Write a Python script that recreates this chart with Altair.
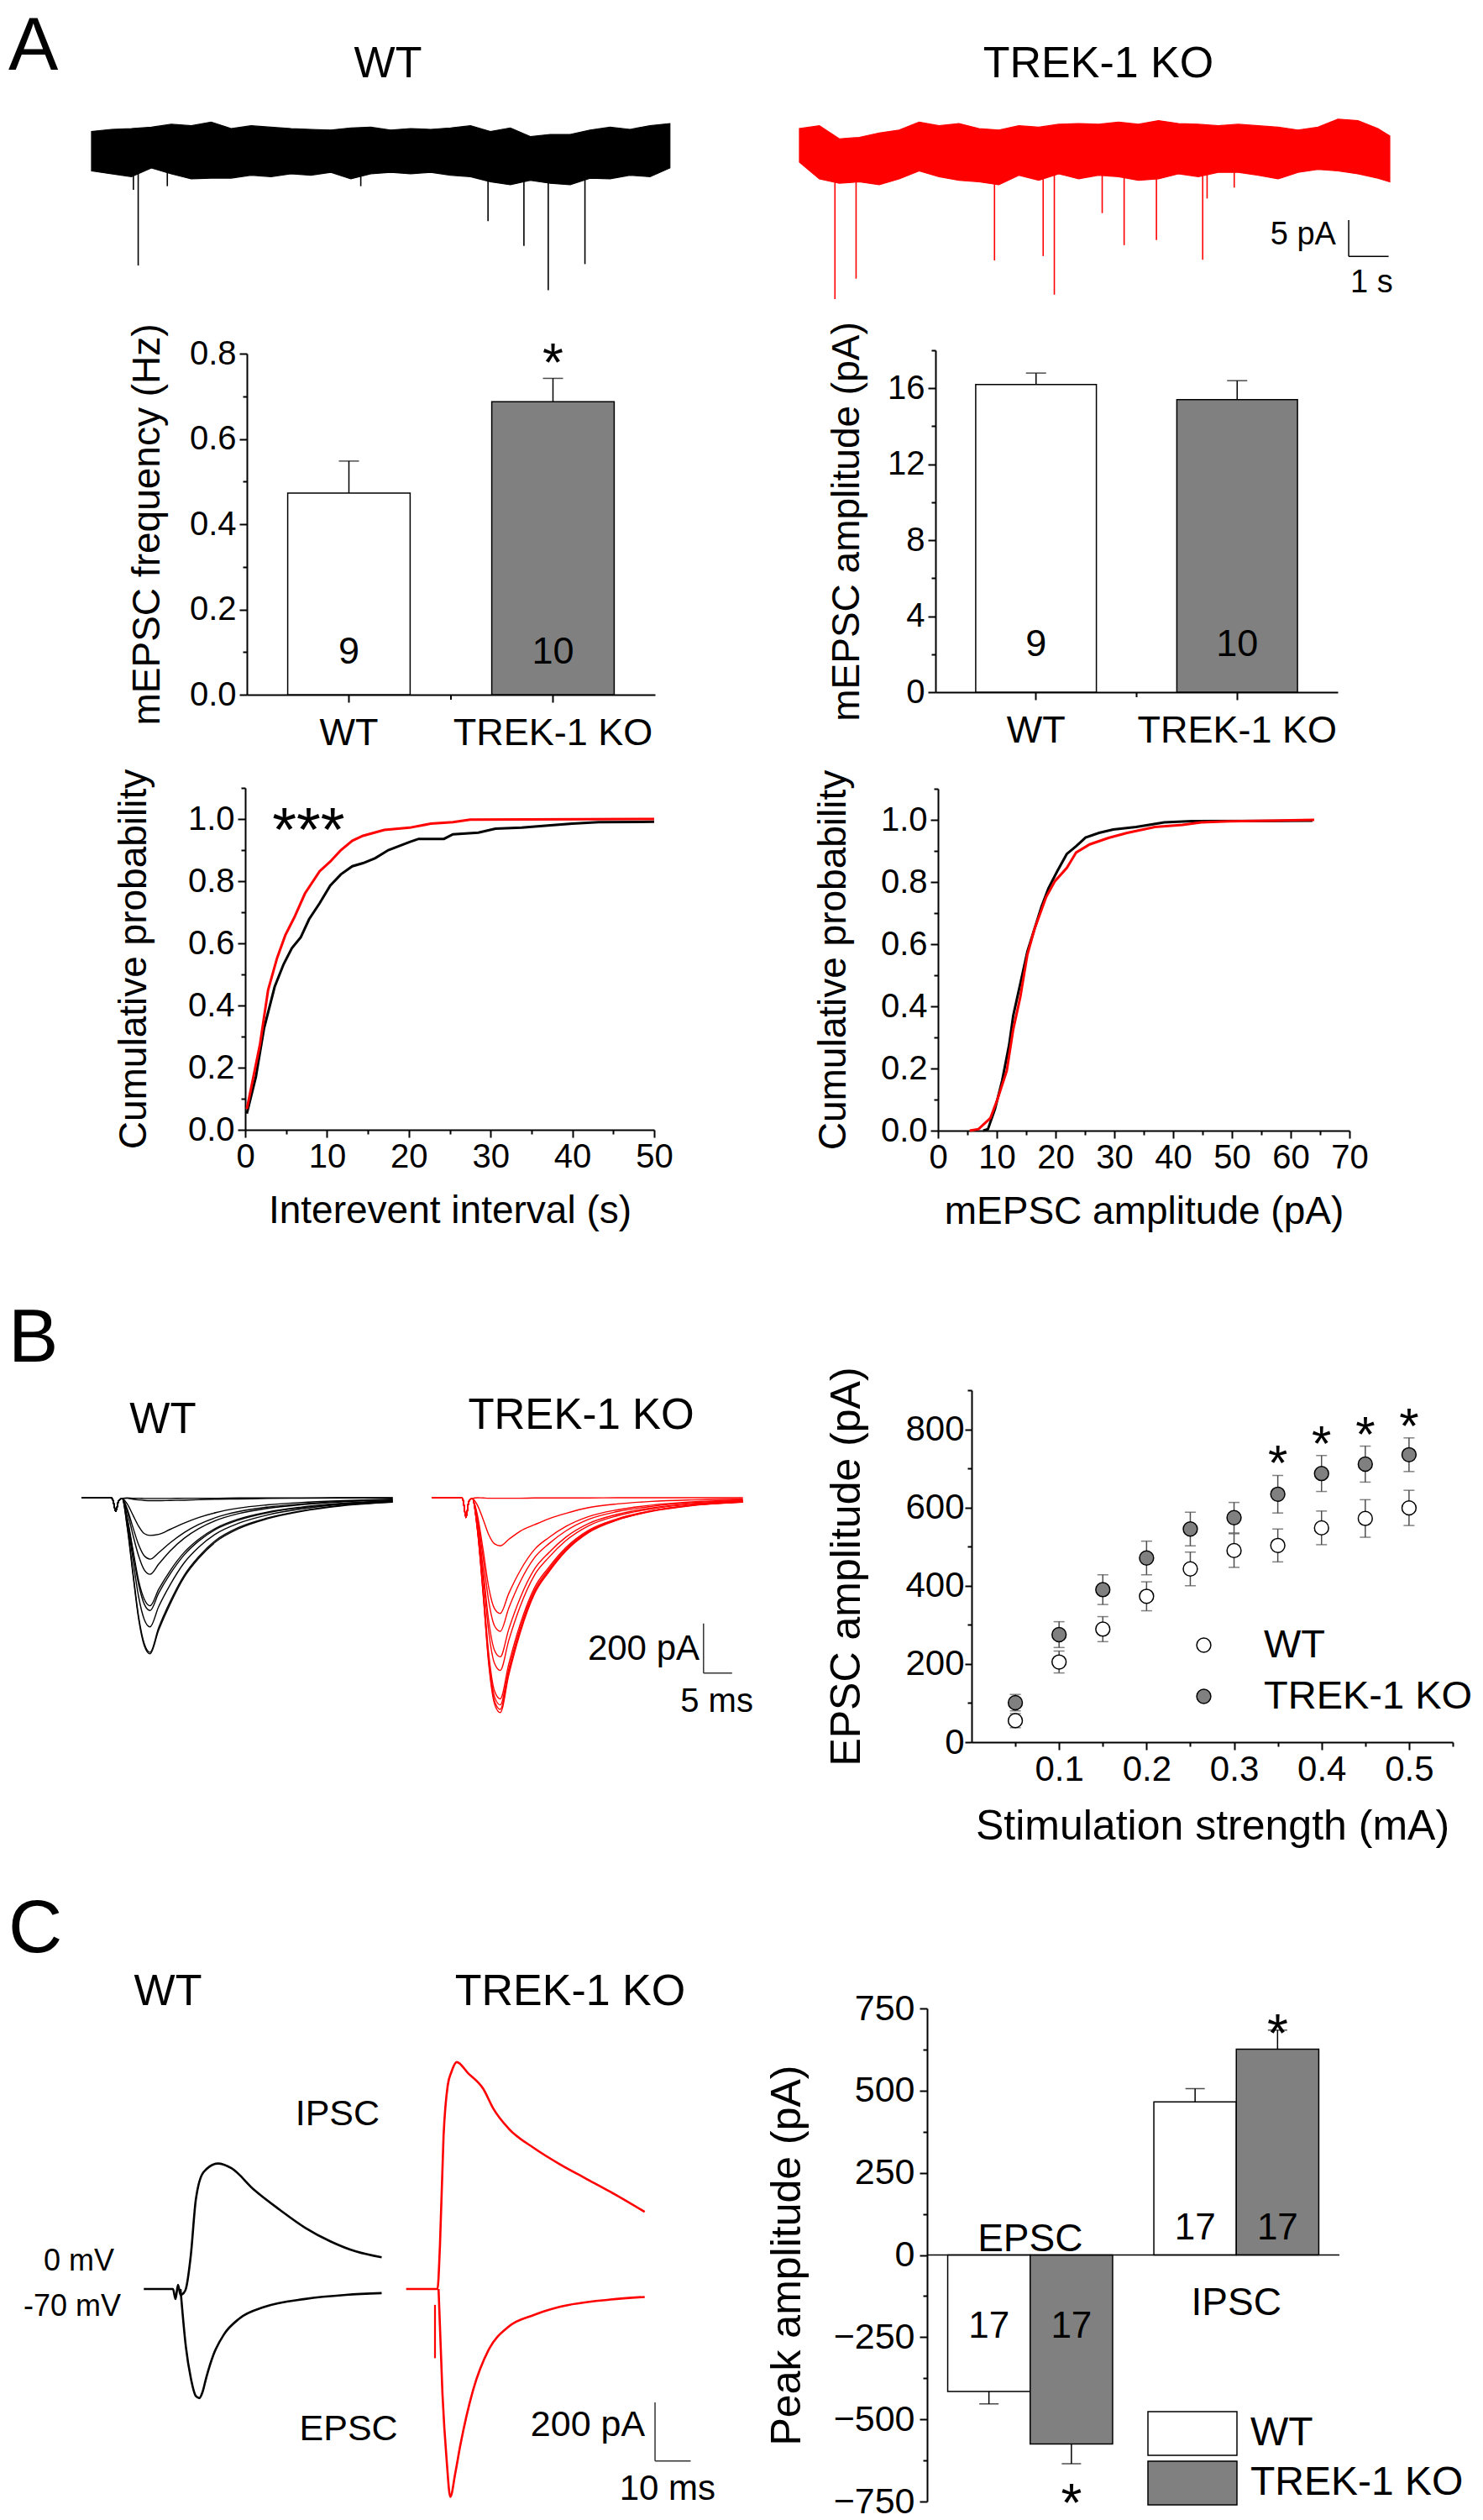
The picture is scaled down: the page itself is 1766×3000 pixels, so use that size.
import altair as alt
import pandas as pd

FONT = "Liberation Sans"
RED = "#ff0000"
GRAY = "#808080"
ERRC = "#4d4d4d"
GENOS = ["WT", "TREK-1 KO"]
ONE = pd.DataFrame({"k": [0]})
W, H = 1750, 2984          # one canvas; every panel gets its own scales placed on it

# ============================ DATA ============================
# ---- A: example mEPSC recordings: noise envelope (pA) every 0.5 s + events ----
A_WT_T = [0.0, 0.5, 1.0, 1.5, 2.0, 2.5, 3.0, 3.5, 4.0, 4.5, 5.0, 5.5, 6.0, 6.5, 7.0,
          7.5, 8.0, 8.5, 9.0, 9.5, 10.0, 10.5, 11.0, 11.5, 12.0, 12.5, 13.0, 13.5, 14.0, 14.5]
A_WT_UP = [2.7, 3.0, 3.1, 3.3, 3.7, 3.5, 4.0, 3.1, 3.5, 3.3, 3.1, 3.0, 2.9, 3.2, 3.3,
           2.9, 3.1, 3.0, 3.2, 3.5, 2.7, 3.2, 2.0, 2.3, 2.3, 2.9, 3.3, 3.0, 3.5, 3.8]
A_WT_LO = [-2.7, -3.1, -3.5, -2.3, -3.1, -3.8, -3.7, -3.7, -3.3, -3.5, -3.1, -3.3, -2.9, -3.8, -3.1,
           -2.9, -3.1, -2.9, -3.3, -3.5, -4.2, -4.6, -4.0, -4.4, -4.6, -3.7, -3.8, -3.3, -3.5, -2.3]
A_WT_EV_T = [1.05, 1.17, 1.90, 6.75, 9.94, 10.84, 11.45, 12.37]
A_WT_EV_PA = [-5.3, -15.7, -4.8, -4.8, -9.6, -13.0, -19.1, -15.5]

A_KO_T = [0.0, 0.5, 1.0, 1.5, 2.0, 2.5, 3.0, 3.5, 4.0, 4.5, 5.0, 5.5, 6.0, 6.5, 7.0, 7.5,
          8.0, 8.5, 9.0, 9.5, 10.0, 10.5, 11.0, 11.5, 12.0, 12.5, 13.0, 13.5, 14.0, 14.5, 14.8]
A_KO_UP = [3.1, 3.5, 1.7, 1.9, 2.5, 2.9, 4.0, 3.5, 3.8, 3.1, 2.9, 3.5, 3.3, 3.7, 3.8, 3.7,
           4.0, 3.7, 4.2, 3.8, 3.7, 3.5, 3.7, 3.5, 3.3, 2.9, 3.3, 4.4, 4.2, 3.1, 2.1]
A_KO_LO = [-1.5, -3.8, -4.4, -4.2, -4.6, -3.8, -2.7, -3.5, -4.0, -4.2, -4.6, -3.3, -4.0, -3.1, -3.8, -3.3,
           -3.5, -4.0, -3.8, -3.1, -3.5, -2.9, -2.9, -3.3, -3.8, -2.9, -2.5, -2.7, -3.1, -3.7, -4.2]
A_KO_EV_T = [0.89, 1.42, 4.89, 6.11, 6.39, 7.59, 8.14, 8.95, 10.11, 10.22, 10.90]
A_KO_EV_PA = [-20.3, -17.5, -15.0, -14.4, -19.7, -8.5, -12.9, -12.2, -14.9, -6.5, -5.0]

# ---- A: summary bars ----
FREQ_MEAN = [0.473, 0.687]
FREQ_SEM = [0.075, 0.055]
AMP_MEAN = [16.2, 15.4]
AMP_SEM = [0.6, 1.0]
N_CELLS = [9, 10]
FREQ_SIG = ["", "*"]
AMP_SIG = ["", ""]

# ---- A: cumulative distributions ----
IEI_WT_X = [0.2, 1.3, 2.3, 3.6, 4.7, 5.7, 6.8, 7.8, 9.1, 10.4, 11.7, 13.1, 14.4, 15.9, 17.5,
            20.1, 21.2, 24.3, 25.4, 28.5, 30.6, 33.8, 37.0, 40.0, 43.2, 50.0]
IEI_WT_P = [0.052, 0.17, 0.326, 0.46, 0.533, 0.584, 0.62, 0.677, 0.729, 0.786, 0.822, 0.848, 0.858,
            0.874, 0.90, 0.926, 0.936, 0.936, 0.951, 0.956, 0.969, 0.972, 0.979, 0.985, 0.99, 0.991]
IEI_KO_X = [0.2, 1.8, 2.8, 3.9, 4.9, 6.0, 7.3, 9.1, 10.4, 11.7, 13.1, 14.4, 17.0, 20.1, 22.7,
            25.4, 27.5, 50.0]
IEI_KO_P = [0.067, 0.274, 0.45, 0.553, 0.626, 0.683, 0.76, 0.832, 0.863, 0.90, 0.93, 0.946,
            0.965, 0.972, 0.985, 0.99, 0.998, 1.0]
AMPC_WT_X = [7.7, 8.5, 9.7, 10.9, 12.1, 12.8, 14.0, 15.2, 16.4, 17.6, 18.8, 20.3, 21.9, 23.5,
             25.1, 27.4, 29.8, 33.7, 38.5, 43.2, 63.7]
AMPC_WT_P = [0.0, 0.005, 0.07, 0.16, 0.276, 0.37, 0.473, 0.576, 0.648, 0.72, 0.78, 0.835, 0.89,
             0.915, 0.943, 0.958, 0.969, 0.977, 0.992, 0.996, 0.997]
AMPC_KO_X = [5.4, 6.9, 8.9, 10.1, 11.7, 12.8, 14.0, 15.2, 16.4, 18.4, 19.9, 21.9, 23.5, 25.8,
             29.0, 32.2, 36.9, 41.6, 44.8, 49.5, 64.0]
AMPC_KO_P = [0.0, 0.005, 0.04, 0.1, 0.193, 0.326, 0.43, 0.566, 0.648, 0.752, 0.803, 0.845, 0.895,
             0.921, 0.942, 0.958, 0.977, 0.984, 0.992, 0.995, 1.0]

# ---- B: evoked EPSC families (time ms from stimulus, current pA) ----
B_HEAD_T = [-5.5, -0.3, 0.0, 0.5, 1.0, 1.6]
B_WT_HEAD = [0, 0, -10, -55, -12, -3]
B_KO_HEAD = [0, 0, -10, -80, -15, -3]
B_TAIL_T = [2.5, 3.5, 4.5, 5.5, 6.5, 8.0, 10.0, 12.5, 15.0, 18.0, 22.0, 27.0, 33.0, 40.0, 49.0]
B_WT_TRACES = [
    [-1, -2, -2, -3, -3, -3, -3, -2, -2, -2, -1, -1, -1, 0, 0],
    [-2, -6, -9, -11, -12, -12, -11, -10, -8, -6, -5, -3, -2, -1, -1],
    [-25, -70, -115, -145, -152, -148, -128, -102, -80, -60, -42, -29, -19, -12, -6],
    [-45, -120, -190, -235, -248, -222, -182, -140, -108, -80, -56, -38, -25, -15, -8],
    [-55, -150, -235, -292, -309, -268, -215, -163, -125, -92, -64, -43, -28, -17, -9],
    [-80, -210, -335, -410, -436, -370, -295, -220, -168, -123, -86, -58, -38, -23, -12],
    [-85, -220, -350, -430, -455, -385, -308, -230, -175, -128, -90, -61, -40, -24, -13],
    [-95, -250, -400, -492, -521, -440, -352, -262, -200, -146, -103, -70, -45, -27, -15],
    [-115, -300, -480, -590, -624, -525, -420, -312, -238, -172, -120, -82, -53, -31, -17],
    [-120, -310, -490, -598, -630, -535, -430, -320, -245, -178, -125, -85, -55, -33, -18],
]
B_KO_TRACES = [
    [0, -1, -2, -2, -2, -2, -2, -1, -1, -1, -1, 0, 0, 0, 0],
    [-30, -87, -150, -186, -194, -168, -135, -109, -85, -63, -40, -25, -15, -9, -5],
    [-70, -210, -364, -448, -467, -386, -294, -209, -161, -116, -76, -49, -30, -17, -9],
    [-80, -243, -420, -517, -539, -445, -339, -242, -186, -134, -87, -56, -35, -20, -11],
    [-96, -289, -500, -616, -642, -530, -404, -288, -222, -159, -104, -67, -41, -24, -13],
    [-105, -314, -544, -669, -697, -575, -438, -312, -241, -173, -113, -73, -45, -26, -14],
    [-122, -365, -633, -780, -812, -670, -510, -363, -281, -201, -131, -85, -52, -30, -16],
    [-125, -376, -652, -803, -836, -690, -525, -374, -289, -207, -135, -87, -53, -31, -17],
    [-128, -384, -666, -820, -854, -705, -537, -382, -295, -212, -138, -89, -54, -31, -17],
    [-130, -390, -676, -832, -867, -715, -545, -388, -300, -215, -140, -90, -55, -32, -18],
]

# ---- B: input-output curve ----
STIM = [0.05, 0.10, 0.15, 0.20, 0.25, 0.30, 0.35, 0.40, 0.45, 0.50]
IO_WT = [55, 205, 289, 373, 443, 490, 503, 548, 572, 599]
IO_WT_SEM = [18, 28, 32, 37, 43, 43, 42, 43, 48, 45]
IO_KO = [101, 275, 390, 471, 545, 574, 634, 687, 711, 735]
IO_KO_SEM = [21, 33, 38, 43, 43, 39, 48, 46, 46, 43]
IO_SIG = ["", "", "", "", "", "", "*", "*", "*", "*"]

# ---- C: EPSC (-70 mV) and IPSC (0 mV) example traces (ms, pA) ----
C_WT_IPSC_T = [-8.9, -0.7, 0.0, 0.7, 1.4, 2.2, 2.9, 4.3, 5.7, 7.9, 11.9, 15.7, 22.1, 29.3, 36.4, 43.6, 50.7, 57.9]
C_WT_IPSC_PA = [0, 0, -34, 14, -20, -15, 0, 115, 304, 399, 428, 412, 338, 270, 209, 162, 128, 108]
C_WT_EPSC_T = [1.4, 2.9, 4.3, 5.7, 6.7, 7.6, 8.6, 10.7, 13.6, 17.9, 25.0, 36.4, 47.9, 57.9]
C_WT_EPSC_PA = [0, -196, -304, -365, -372, -351, -304, -223, -155, -101, -61, -34, -20, -14]
C_KO_IPSC_T = [-8.1, -0.7, 0.7, 1.4, 2.4, 3.6, 4.6, 6.1, 9.3, 13.6, 16.4, 20.7, 27.9, 35.0, 42.2, 49.3, 58.9]
C_KO_IPSC_PA = [0, 0, 0, 150, 520, 696, 740, 774, 736, 682, 615, 547, 480, 426, 378, 331, 263]
C_KO_EPSC_T = [1.0, 2.1, 3.3, 4.3, 5.7, 7.1, 10.7, 15.0, 20.7, 27.9, 35.0, 49.3, 58.9]
C_KO_EPSC_PA = [0, -358, -588, -709, -628, -534, -345, -209, -128, -88, -61, -36, -27]
C_KO_ART_PA = [-54, -236]

# ---- C: peak amplitudes ----
C_GROUP = ["EPSC", "EPSC", "IPSC", "IPSC"]
C_GENO = ["WT", "TREK-1 KO", "WT", "TREK-1 KO"]
C_MEAN = [-415, -575, 466, 626]
C_SEM = [38, 60, 40, 58]
C_N = [17, 17, 17, 17]
C_SIG = ["", "*", "", "*"]


# ============================ HELPERS ============================
def qs(domain, rng):
    return alt.Scale(domain=list(domain), range=list(rng), nice=False, zero=False)


def text(txt, x, y, size, align="center", baseline="alphabetic", color="black", dy=0):
    return alt.Chart(ONE).mark_text(text=txt, fontSize=size, font=FONT, align=align,
                                    baseline=baseline, color=color, dy=dy).encode(x=x, y=y)


def axis(values, test, fmt, title, orient, offset, lsize=40, tsize=46, lpad=4, tpad=10,
         maj=9, minr=5):
    return alt.Axis(values=values, format=fmt, title=title, orient=orient, offset=offset,
                    labelExpr=f"({test}) ? datum.label : ''",
                    tickSize={"condition": {"test": test, "value": maj}, "value": minr},
                    labelFontSize=lsize, titleFontSize=tsize, labelPadding=lpad,
                    titlePadding=tpad, labelOverlap=False, labelFlush=False, labelLimit=600)


def ybottom(y):          # offset that moves a bottom axis up to canvas row y
    return y - H


# ============================ PANEL A: traces ============================
def noise_panel(t, up, lo, ev_t, ev_pa, color, xs, ys):
    df = pd.DataFrame({"t": t, "up": up, "lo": lo})
    ev = pd.DataFrame({"t": ev_t, "pa": ev_pa})
    x = alt.X("t:Q", scale=xs, axis=None)
    band = alt.Chart(df).mark_area(color=color, opacity=1, stroke=color, strokeWidth=1.2).encode(
        x=x, y=alt.Y("lo:Q", scale=ys, axis=None), y2="up:Q")
    spikes = alt.Chart(ev).mark_rule(color=color, strokeWidth=1.6).encode(
        x=x, y=alt.Y("pa:Q", scale=ys, axis=None), y2=alt.datum(0))
    return [band, spikes]


A_PX_S, A_PX_PA, A_BASE = 47.5, 8.67, 172
A_YS = qs((-10, 10), (A_BASE + 10 * A_PX_PA, A_BASE - 10 * A_PX_PA))
A_WT_XS = qs((0, 10), (101, 101 + 10 * A_PX_S))
A_KO_XS = qs((0, 10), (944, 944 + 10 * A_PX_S))

SB_A = pd.DataFrame({"x": [13.77, 13.77], "y": [-9.46, -14.46], "x2": [13.77, 14.77], "y2": [-14.46, -14.46]})
a_sb = alt.Chart(SB_A).mark_rule(color="black", strokeWidth=1.5).encode(
    x=alt.X("x:Q", scale=A_KO_XS, axis=None), y=alt.Y("y:Q", scale=A_YS, axis=None),
    x2="x2:Q", y2="y2:Q")

panel_a_wt = alt.layer(*noise_panel(A_WT_T, A_WT_UP, A_WT_LO, A_WT_EV_T, A_WT_EV_PA, "black",
                                    A_WT_XS, A_YS))
panel_a_ko = alt.layer(
    *noise_panel(A_KO_T, A_KO_UP, A_KO_LO, A_KO_EV_T, A_KO_EV_PA, RED, A_KO_XS, A_YS), a_sb,
    text("5 pA", alt.datum(13.45), alt.datum(-11.5), 38, align="right", baseline="middle"),
    text("1 s", alt.datum(13.81), alt.datum(-18.1), 38, align="left", baseline="middle"),
)


# ============================ PANEL A: bar charts ============================
def bar_panel(mean, sem, sig, ydom, yrng, xrng, yvals, test, fmt, ytitle, n_at, tpad):
    df = pd.DataFrame({"geno": GENOS, "mean": mean,
                       "upper": [m + s for m, s in zip(mean, sem)],
                       "n": [str(v) for v in N_CELLS], "sig": sig})
    yax = axis(yvals, test, fmt, ytitle, "left", -xrng[0], lsize=40, tsize=46, lpad=4, tpad=tpad)
    ysc = qs(ydom, yrng)
    xax = alt.Axis(title=None, labelAngle=0, labelFontSize=45, labelPadding=14, tickSize=9,
                   orient="bottom", offset=ybottom(yrng[0]), labelLimit=600)
    x = alt.X("geno:N", sort=GENOS, axis=xax,
              scale=alt.Scale(domain=GENOS, range=list(xrng), paddingInner=0.4, paddingOuter=0.2))
    base = alt.Chart(df)
    bars = base.mark_bar(stroke="black", strokeWidth=1.5, opacity=1).encode(
        x=x, y=alt.Y("mean:Q", scale=ysc, axis=yax),
        fill=alt.Fill("geno:N", scale=alt.Scale(domain=GENOS, range=["#ffffff", GRAY]), legend=None))
    err = base.mark_rule(color="black", strokeWidth=1.5).encode(
        x=x, y=alt.Y("mean:Q", scale=ysc, axis=yax), y2="upper:Q")
    cap = base.mark_tick(color="black", thickness=1.5, size=24, orient="horizontal").encode(
        x=x, y=alt.Y("upper:Q", scale=ysc, axis=yax))
    nlab = base.mark_text(fontSize=45, font=FONT, baseline="alphabetic", dy=16).encode(
        x=x, y=alt.datum(n_at), text="n:N")
    star = base.mark_text(fontSize=64, font=FONT, baseline="alphabetic", dy=4).encode(
        x=x, y=alt.Y("upper:Q", scale=ysc, axis=yax), text="sig:N")
    xm = (xrng[0] + xrng[1]) / 2
    mid = alt.Chart(ONE).mark_rule(color="black", strokeWidth=2).encode(
        x=alt.value(xm), y=alt.value(yrng[0]), y2=alt.value(yrng[0] + 6))
    return alt.layer(bars, err, cap, nlab, star, mid)


panel_bar1 = bar_panel(FREQ_MEAN, FREQ_SEM, FREQ_SIG, (0, 0.8), (819, 413), (286, 772),
                       [0, 0.1, 0.2, 0.3, 0.4, 0.5, 0.6, 0.7, 0.8], "round(datum.value*10) % 2 == 0",
                       ".1f", "mEPSC frequency (Hz)", 0.104, 26)
panel_bar2 = bar_panel(AMP_MEAN, AMP_SEM, AMP_SIG, (0, 18), (816, 409), (1106, 1585),
                       [0, 2, 4, 6, 8, 10, 12, 14, 16, 18], "datum.value % 4 == 0 && datum.value <= 16",
                       "d", "mEPSC amplitude (pA)", 2.6, 24)


# ============================ PANEL A: cumulative ============================
def cum_panel(wx, wp, kx, kp, xmax, xrng, yrng, xvals, xtitle, ytpad, stars=False):
    df = pd.concat([pd.DataFrame({"x": wx, "p": wp, "g": "WT"}),
                    pd.DataFrame({"x": kx, "p": kp, "g": "TREK-1 KO"})])
    xs = qs((0, xmax), xrng)
    ys = qs((0, 1.1), yrng)
    xax = axis(xvals, "datum.value % 10 == 0", "d", xtitle, "bottom", ybottom(yrng[0]),
               lsize=40, tsize=46, lpad=3, tpad=22)
    yax = axis([0, 0.1, 0.2, 0.3, 0.4, 0.5, 0.6, 0.7, 0.8, 0.9, 1.0, 1.1],
               "round(datum.value*10) % 2 == 0 && datum.value <= 1.0", ".1f",
               "Cumulative probability", "left", -xrng[0], lsize=40, tsize=46, lpad=4, tpad=ytpad)
    lines = alt.Chart(df).mark_line(strokeWidth=3).encode(
        x=alt.X("x:Q", scale=xs, axis=xax), y=alt.Y("p:Q", scale=ys, axis=yax),
        color=alt.Color("g:N", scale=alt.Scale(domain=GENOS, range=["black", RED]), legend=None),
        detail="g:N", order="x:Q")
    layers = [lines]
    if stars:
        layers.append(text("***", alt.datum(3.3), alt.datum(1.0), 74, align="left", dy=38))
    return alt.layer(*layers)


panel_cum1 = cum_panel(IEI_WT_X, IEI_WT_P, IEI_KO_X, IEI_KO_P, 50, (284, 771), (1337, 930),
                       list(range(0, 51, 5)), "Interevent interval (s)", 40, stars=True)
panel_cum2 = cum_panel(AMPC_WT_X, AMPC_WT_P, AMPC_KO_X, AMPC_KO_P, 70, (1109, 1599), (1338, 931),
                       list(range(0, 71, 5)), "mEPSC amplitude (pA)", 32)


# ============================ PANEL B: traces ============================
def family_df(head_v, traces):
    rows = []
    for i, tr in enumerate(traces):
        for t, v in zip(B_HEAD_T + B_TAIL_T, head_v + tr):
            rows.append({"t": t, "pA": v, "trace": i})
    return pd.DataFrame(rows)


B_YS = qs((-1000, 0), (1775 + 295, 1775))
B_WT_XS = qs((0, 10), (126.5, 194.5))
B_KO_XS = qs((0, 10), (543.5, 611.5))


def family_lines(df, color, xs):
    return alt.Chart(df).mark_line(color=color, strokeWidth=1.4, interpolate="monotone").encode(
        x=alt.X("t:Q", scale=xs, axis=None), y=alt.Y("pA:Q", scale=B_YS, axis=None),
        detail="trace:N", order="t:Q")


SB_B = pd.DataFrame({"t": [42.1, 42.1], "pA": [-508, -708], "t2": [42.1, 47.1], "pA2": [-708, -708]})
b_sb = alt.Chart(SB_B).mark_rule(color="#333333", strokeWidth=1.5).encode(
    x=alt.X("t:Q", scale=B_KO_XS, axis=None), y=alt.Y("pA:Q", scale=B_YS, axis=None),
    x2="t2:Q", y2="pA2:Q")
panel_b_wt = alt.layer(family_lines(family_df(B_WT_HEAD, B_WT_TRACES), "black", B_WT_XS))
panel_b_ko = alt.layer(
    family_lines(family_df(B_KO_HEAD, B_KO_TRACES), RED, B_KO_XS), b_sb,
    text("200 pA", alt.datum(41.4), alt.datum(-610), 42, align="right", baseline="middle"),
    text("5 ms", alt.datum(50.8), alt.datum(-824), 40, align="right", baseline="middle"),
)

# ============================ PANEL B: input/output ============================
io = pd.concat([
    pd.DataFrame({"s": STIM, "m": IO_WT, "e": IO_WT_SEM, "g": "WT", "sig": ""}),
    pd.DataFrame({"s": STIM, "m": IO_KO, "e": IO_KO_SEM, "g": "TREK-1 KO", "sig": IO_SIG}),
])
io["lo"] = io["m"] - io["e"]
io["hi"] = io["m"] + io["e"]
S_XR, S_YR = (1149, 1722), (2066, 1647)
sx = alt.X("s:Q", scale=qs((0, 0.55), S_XR),
           axis=axis([0.05, 0.1, 0.15, 0.2, 0.25, 0.3, 0.35, 0.4, 0.45, 0.5, 0.55],
                     "round(datum.value*100) % 10 == 0", ".1f", "Stimulation strength (mA)",
                     "bottom", ybottom(S_YR[0]), lsize=42, tsize=50, lpad=3, tpad=22))
syax = axis([0, 100, 200, 300, 400, 500, 600, 700, 800, 900],
            "datum.value % 200 == 0 && datum.value <= 800", "d", "EPSC amplitude (pA)",
            "left", -S_XR[0], lsize=42, tsize=50, lpad=1, tpad=44, maj=8)
ssc = qs((0, 900), S_YR)
io_base = alt.Chart(io)
io_err = io_base.mark_rule(color=ERRC, strokeWidth=1.5).encode(
    x=sx, y=alt.Y("lo:Q", scale=ssc, axis=syax), y2="hi:Q")
io_cap_lo = io_base.mark_tick(color=ERRC, thickness=1.5, size=13, orient="horizontal").encode(
    x=sx, y=alt.Y("lo:Q", scale=ssc, axis=syax))
io_cap_hi = io_base.mark_tick(color=ERRC, thickness=1.5, size=13, orient="horizontal").encode(
    x=sx, y=alt.Y("hi:Q", scale=ssc, axis=syax))
io_pts = io_base.mark_point(filled=True, size=283, stroke="black", strokeWidth=1.5, opacity=1,
                            shape="circle").encode(
    x=sx, y=alt.Y("m:Q", scale=ssc, axis=syax),
    fill=alt.Fill("g:N", scale=alt.Scale(domain=GENOS, range=["#ffffff", GRAY]),
                  legend=alt.Legend(orient="none", legendX=S_XR[0] + 253, legendY=S_YR[1] + 280,
                                    title=None, labelFontSize=47, labelFont=FONT,
                                    labelColor="black", symbolType="circle", symbolSize=283,
                                    symbolStrokeColor="black", symbolStrokeWidth=1.5,
                                    labelOffset=48, rowPadding=13, labelLimit=600)))
io_star = io_base.transform_filter("datum.sig == '*'").mark_text(
    fontSize=60, font=FONT, baseline="alphabetic", dy=6).encode(
    x=sx, y=alt.Y("hi:Q", scale=ssc, axis=syax), text="sig:N")
panel_scat = alt.layer(io_err, io_cap_lo, io_cap_hi, io_pts, io_star)


# ============================ PANEL C: traces ============================
def c_df(segs):
    rows = []
    for name, ts, vs in segs:
        for t, v in zip(ts, vs):
            rows.append({"t": t, "pA": v, "seg": name})
    return pd.DataFrame(rows)


C_YS = qs((-1000, 0), (2717 + 349, 2717))
C_WT_XS = qs((0, 10), (201, 243.4))
C_KO_XS = qs((0, 10), (510, 552.4))


def c_lines(df, color, xs):
    return alt.Chart(df).mark_line(color=color, strokeWidth=2.6, interpolate="monotone").encode(
        x=alt.X("t:Q", scale=xs, axis=None), y=alt.Y("pA:Q", scale=C_YS, axis=None),
        detail="seg:N", order="t:Q")


panel_c_wt = alt.layer(
    c_lines(c_df([("ipsc", C_WT_IPSC_T, C_WT_IPSC_PA), ("epsc", C_WT_EPSC_T, C_WT_EPSC_PA)]),
            "black", C_WT_XS),
    text("0 mV", alt.datum(-17.2), alt.datum(94.6), 36, align="right", baseline="middle"),
    text("-70 mV", alt.datum(-15.3), alt.datum(-60), 36, align="right", baseline="middle"),
    text("IPSC", alt.datum(45.5), alt.datum(596), 43, baseline="middle"),
    text("EPSC", alt.datum(48.6), alt.datum(-478), 43, baseline="middle"),
)
art = pd.DataFrame({"t": [0.0], "a": [C_KO_ART_PA[0]], "b": [C_KO_ART_PA[1]]})
c_art = alt.Chart(art).mark_rule(color=RED, strokeWidth=2.2).encode(
    x=alt.X("t:Q", scale=C_KO_XS, axis=None), y=alt.Y("a:Q", scale=C_YS, axis=None), y2="b:Q")
SB_C = pd.DataFrame({"t": [61.8, 61.8], "pA": [-387, -587], "t2": [61.8, 71.8], "pA2": [-587, -587]})
c_sb = alt.Chart(SB_C).mark_rule(color="#333333", strokeWidth=1.5).encode(
    x=alt.X("t:Q", scale=C_KO_XS, axis=None), y=alt.Y("pA:Q", scale=C_YS, axis=None),
    x2="t2:Q", y2="pA2:Q")
panel_c_ko = alt.layer(
    c_lines(c_df([("ipsc", C_KO_IPSC_T, C_KO_IPSC_PA), ("epsc", C_KO_EPSC_T, C_KO_EPSC_PA)]),
            RED, C_KO_XS),
    c_art, c_sb,
    text("200 pA", alt.datum(59), alt.datum(-464), 43, align="right", baseline="middle"),
    text("10 ms", alt.datum(78.8), alt.datum(-682), 42, align="right", baseline="middle"),
)

# ============================ PANEL C: peak amplitude bars ============================
cd = pd.DataFrame({"group": C_GROUP, "geno": C_GENO, "mean": C_MEAN, "sem": C_SEM,
                   "n": [str(v) for v in C_N], "sig": C_SIG})
cd["end"] = [m + (s if m > 0 else -s) for m, s in zip(C_MEAN, C_SEM)]
C_XR, C_YR = (1096, 1587), (2970, 2383)
cx = alt.X("group:N", axis=None,
           scale=alt.Scale(domain=["EPSC", "IPSC"], range=list(C_XR), paddingInner=0.2, paddingOuter=0.1))
cxo = alt.XOffset("geno:N", scale=alt.Scale(domain=GENOS, paddingInner=0, paddingOuter=0))
csc = qs((-750, 750), C_YR)
cyax = axis(list(range(-750, 751, 125)), "datum.value % 250 == 0", "d", "Peak amplitude (pA)",
            "left", -C_XR[0], lsize=43, tsize=50, lpad=6, tpad=30)
cbase = alt.Chart(cd)
c_bars = cbase.mark_bar(stroke="black", strokeWidth=1.5, opacity=1).encode(
    x=cx, xOffset=cxo, y=alt.Y("mean:Q", scale=csc, axis=cyax, stack=None), y2=alt.datum(0),
    fill=alt.Fill("geno:N", scale=alt.Scale(domain=GENOS, range=["#ffffff", GRAY]),
                  legend=alt.Legend(orient="none", legendX=C_XR[0] + 262, legendY=C_YR[1] + 479,
                                    title=None, labelFontSize=48, labelFont=FONT,
                                    labelColor="black",
                                    symbolType="M-1,-0.49L1,-0.49L1,0.49L-1,0.49Z",
                                    symbolSize=11236, symbolStrokeColor="black",
                                    symbolStrokeWidth=1.5, labelOffset=15,
                                    clipHeight=54, rowPadding=5, labelLimit=600)))
c_err = cbase.mark_rule(color="black", strokeWidth=1.5).encode(
    x=cx, xOffset=cxo, y=alt.Y("mean:Q", scale=csc, axis=cyax), y2="end:Q")
c_cap = cbase.mark_tick(color="black", thickness=1.5, size=23, orient="horizontal").encode(
    x=cx, xOffset=cxo, y=alt.Y("end:Q", scale=csc, axis=cyax))
c_zero = alt.Chart(ONE).mark_rule(color="black", strokeWidth=1.5).encode(
    x=alt.value(C_XR[0]), x2=alt.value(C_XR[1]), y=alt.Y(datum=0, scale=csc, axis=cyax))
c_n_e = cbase.transform_filter("datum.group == 'EPSC'").mark_text(fontSize=44, font=FONT, dy=16).encode(
    x=cx, xOffset=cxo, y=alt.datum(-178), text="n:N")
c_n_i = cbase.transform_filter("datum.group == 'IPSC'").mark_text(fontSize=44, font=FONT, dy=16).encode(
    x=cx, xOffset=cxo, y=alt.datum(122), text="n:N")
c_st_i = cbase.transform_filter("datum.group == 'IPSC'").mark_text(fontSize=64, font=FONT, dy=7).encode(
    x=cx, xOffset=cxo, y=alt.Y("end:Q", scale=csc, axis=cyax), text="sig:N")
c_st_e = cbase.transform_filter("datum.group == 'EPSC'").mark_text(fontSize=64, font=FONT, dy=50).encode(
    x=cx, xOffset=cxo, y=alt.Y("end:Q", scale=csc, axis=cyax), text="sig:N")
glab = pd.DataFrame({"group": ["EPSC", "IPSC"]})
c_g_e = alt.Chart(glab).transform_filter("datum.group == 'EPSC'").mark_text(
    fontSize=46, font=FONT, dy=16).encode(x=cx, y=alt.datum(87), text="group:N")
c_g_i = alt.Chart(glab).transform_filter("datum.group == 'IPSC'").mark_text(
    fontSize=46, font=FONT, dy=16).encode(x=cx, y=alt.datum(-107), text="group:N")
panel_cbar = alt.layer(c_bars, c_err, c_cap, c_zero, c_n_e, c_n_i, c_st_i, c_st_e, c_g_e, c_g_i)

# ============================ HEADINGS ============================
headings = alt.layer(
    text("A", alt.value(2), alt.value(5), 89, align="left", baseline="top"),
    text("WT", alt.value(454), alt.value(84), 52),
    text("TREK-1 KO", alt.value(1300), alt.value(84), 52),
    text("B", alt.value(2), alt.value(1543), 89, align="left", baseline="top"),
    text("WT", alt.value(186), alt.value(1698), 51),
    text("TREK-1 KO", alt.value(684), alt.value(1693), 51),
    text("C", alt.value(2), alt.value(2246), 89, align="left", baseline="top"),
    text("WT", alt.value(192), alt.value(2379), 52),
    text("TREK-1 KO", alt.value(671), alt.value(2379), 52),
)

chart = alt.layer(
    panel_a_wt, panel_a_ko, panel_bar1, panel_bar2, panel_cum1, panel_cum2,
    panel_b_wt, panel_b_ko, panel_scat, panel_c_wt, panel_c_ko, panel_cbar, headings,
).resolve_scale(
    x="independent", y="independent", fill="independent", color="independent"
).resolve_axis(
    x="independent", y="independent"
).resolve_legend(
    fill="independent"
).properties(width=W, height=H, padding=0).configure(font=FONT).configure_view(
    stroke=None).configure_axis(
    labelFont=FONT, titleFont=FONT, labelColor="black", titleColor="black",
    domainColor="black", tickColor="black", domainWidth=2, tickWidth=2, grid=False,
    titleFontWeight="normal").configure_legend(labelFont=FONT, labelColor="black")

chart.save("out.html", embed_options={"renderer": "svg", "actions": False})
